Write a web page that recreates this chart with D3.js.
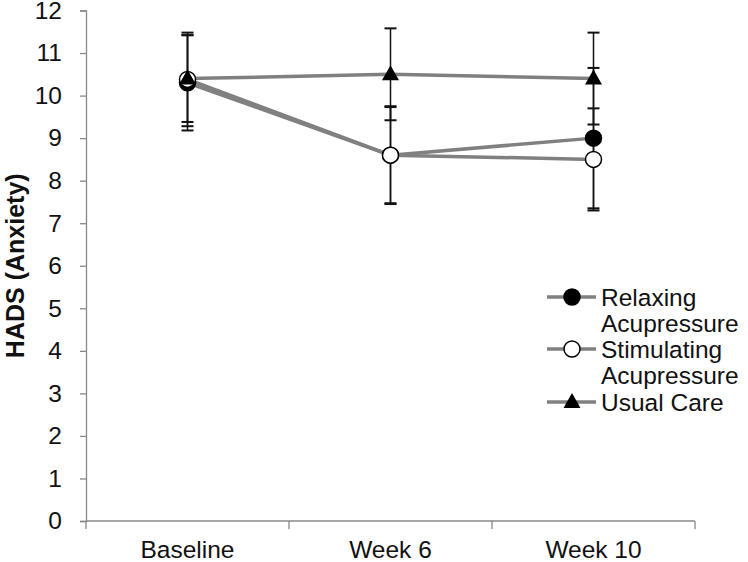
<!DOCTYPE html>
<html>
<head>
<meta charset="utf-8">
<script src="https://cdn.jsdelivr.net/npm/d3@7"></script>
<style>
  body { margin: 0; background: #fff; }
  svg { display: block; font-family: "Liberation Sans", Arial, sans-serif; }
</style>
</head>
<body>
<div id="chart"></div>
<script>
// data
const categories = ["Baseline", "Week 6", "Week 10"];
const seriesNames = ["Relaxing\nAcupressure", "Stimulating\nAcupressure", "Usual Care"];
const relaxing = [10.3, 8.6, 9.0];
const relaxingErr = [1.12, 1.15, 1.65];
const stimulating = [10.38, 8.6, 8.5];
const stimulatingErr = [1.1, 1.13, 1.2];
const usualCare = [10.4, 10.5, 10.4];
const usualCareErr = [1.02, 1.08, 1.08];
const yTicks = [0, 1, 2, 3, 4, 5, 6, 7, 8, 9, 10, 11, 12];

const width = 748, height = 562;
const margin = {top: 10.5, right: 53, bottom: 41, left: 86};
const fontSize = "24.5px";

const series = [
  {name: seriesNames[0], values: relaxing, err: relaxingErr, marker: "filled"},
  {name: seriesNames[1], values: stimulating, err: stimulatingErr, marker: "open"},
  {name: seriesNames[2], values: usualCare, err: usualCareErr, marker: "triangle"}
];

const svg = d3.select("#chart").append("svg")
  .attr("width", width)
  .attr("height", height);

const x = d3.scaleBand().domain(categories).range([margin.left, width - margin.right]).padding(0);
const y = d3.scaleLinear().domain([0, 12]).range([height - margin.bottom, margin.top]);
const cx = d => x(d) + x.bandwidth() / 2;

const axisColor = "#888";
const lineColor = "#808080";

// y axis
const yAxis = svg.append("g")
  .attr("transform", "translate(" + margin.left + ",0)")
  .call(d3.axisLeft(y).tickValues(yTicks).tickSize(6).tickPadding(18).tickFormat(d3.format("d")));
yAxis.select(".domain").attr("stroke", axisColor).attr("stroke-width", 1.3);
yAxis.selectAll(".tick line").attr("stroke", axisColor).attr("stroke-width", 1.3);
yAxis.selectAll(".tick text").attr("fill", "#111").style("font-size", fontSize);

// x axis: ticks sit on the category boundaries
const xAxis = svg.append("g").attr("transform", "translate(0," + y(0) + ")");
xAxis.append("line")
  .attr("x1", x.range()[0]).attr("x2", x.range()[1])
  .attr("stroke", axisColor).attr("stroke-width", 1.3);
const bounds = categories.map(c => x(c)).concat([x.range()[1]]);
xAxis.selectAll("line.tk").data(bounds).enter().append("line")
  .attr("class", "tk")
  .attr("x1", d => d).attr("x2", d => d)
  .attr("y1", 0).attr("y2", 8)
  .attr("stroke", axisColor).attr("stroke-width", 1.3);
xAxis.selectAll("text").data(categories).enter().append("text")
  .attr("x", cx)
  .attr("y", 37)
  .attr("text-anchor", "middle")
  .attr("fill", "#111")
  .style("font-size", fontSize)
  .text(d => d);

// y title
svg.append("text")
  .attr("transform", "translate(24," + y(6) + ") rotate(-90)")
  .attr("text-anchor", "middle")
  .attr("font-weight", "bold")
  .attr("fill", "#111")
  .style("font-size", "25px")
  .text("HADS (Anxiety)");

// lines
const line = d3.line().x((d, i) => cx(categories[i])).y(d => y(d));
svg.append("g").selectAll("path").data(series).enter().append("path")
  .attr("d", d => line(d.values))
  .attr("fill", "none")
  .attr("stroke", lineColor)
  .attr("stroke-width", 3.5);

// error bars
const errG = svg.append("g").attr("stroke", "#111").attr("stroke-width", 1.5);
series.forEach(s => {
  s.values.forEach((v, i) => {
    const px = cx(categories[i]);
    errG.append("line").attr("x1", px).attr("x2", px).attr("y1", y(v - s.err[i])).attr("y2", y(v + s.err[i]));
    [v - s.err[i], v + s.err[i]].forEach(e => {
      errG.append("line").attr("x1", px - 6).attr("x2", px + 6).attr("y1", y(e)).attr("y2", y(e)).attr("stroke-width", 2);
    });
  });
});

function drawMarker(g, kind, px, py) {
  if (kind === "triangle") {
    g.append("path")
      .attr("d", "M" + px + "," + (py - 9) + "L" + (px + 8.5) + "," + (py + 6) + "L" + (px - 8.5) + "," + (py + 6) + "Z")
      .attr("fill", "#000");
  } else {
    g.append("circle")
      .attr("cx", px).attr("cy", py).attr("r", 8)
      .attr("fill", kind === "filled" ? "#000" : "#fff")
      .attr("stroke", "#000").attr("stroke-width", 1.5);
  }
}

// markers
const markG = svg.append("g");
series.forEach(s => {
  s.values.forEach((v, i) => drawMarker(markG, s.marker, cx(categories[i]), y(v)));
});

// legend
const legend = svg.append("g").attr("transform", "translate(547,0)");
const legendY = [297, 349, 402];
series.forEach((s, i) => {
  const g = legend.append("g").attr("transform", "translate(0," + legendY[i] + ")");
  g.append("line").attr("x1", 0).attr("x2", 49).attr("y1", 0).attr("y2", 0)
    .attr("stroke", lineColor).attr("stroke-width", 3.5);
  drawMarker(g, s.marker, 25, 0);
  const t = g.append("text").attr("x", 54).attr("y", 9).attr("fill", "#111").style("font-size", fontSize);
  s.name.split("\n").forEach((part, k) => {
    t.append("tspan").attr("x", 54).attr("dy", k === 0 ? 0 : 26).text(part);
  });
});
</script>
</body>
</html>
